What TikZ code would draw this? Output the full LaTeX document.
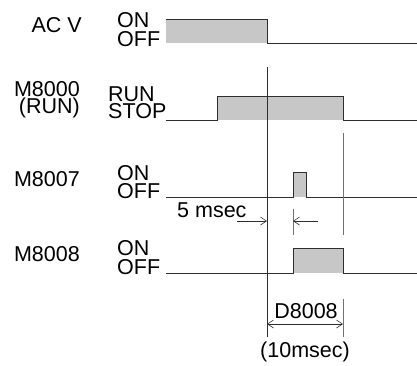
\documentclass[tikz,border=0pt]{standalone}
\usepackage{fontspec}
\setmainfont{Liberation Sans}
\usetikzlibrary{arrows.meta,positioning}
\definecolor{wavefill}{gray}{0.78}
\definecolor{wireline}{gray}{0.18}
\definecolor{guideline}{gray}{0.45}
\begin{document}
\begin{tikzpicture}[x=1pt, y=-1pt,
  lbl/.style={font=\fontsize{21.5}{21.5}\selectfont, inner sep=0pt},
  sig/.style={lbl, anchor=base east},
  lvl/.style={lbl, anchor=base west},
  wave/.style={draw=wireline, line width=1pt, line join=miter},
  pulse/.style={fill=wavefill},
  guide/.style={draw=wireline, line width=0.7pt},
  barb/.style={-{Straight Barb[length=6pt,width=8pt,line width=0.6pt]}},
]
\useasboundingbox (0,0) rectangle (417,365);

% signal names and levels
\node[sig] (acv)  at (82,32)   {AC V};
\node[lvl] (acon) at (117,27)  {ON};
\node[lvl] (acoff) at (117,46) {OFF};

\node[sig] (mrun)  at (80,96)  {M8000};
\node[sig] (mrunb) at (80,113) {(RUN)};
\node[lvl] (run)   at (108,101) {RUN};
\node[lvl] (stop)  at (108,118) {STOP};

\node[sig] (mpwr)  at (80,186)  {M8007};
\node[lvl] (mpwron)  at (117,180) {ON};
\node[lvl] (mpwroff) at (117,198) {OFF};

\node[sig] (mdet)  at (80,261)  {M8008};
\node[lvl] (mdeton)  at (117,255) {ON};
\node[lvl] (mdetoff) at (117,274) {OFF};

% waveforms
\fill[pulse] (166,19) rectangle (267,43);
\draw[wave] (166,19) -- (267,19) -- (267,43) -- (417,43);

\fill[pulse] (217,96) rectangle (343,120);
\draw[wave] (166,120) -- (217,120) -- (217,96) -- (343,96) -- (343,120) -- (417,120);

\fill[pulse] (293,172) rectangle (306,197);
\draw[wave] (166,197) -- (293,197) -- (293,172) -- (306,172) -- (306,197) -- (417,197);

\fill[pulse] (293,248) rectangle (343,273);
\draw[wave] (166,273) -- (293,273) -- (293,248) -- (343,248) -- (343,273) -- (417,273);

% guide lines
\coordinate (offtop) at (267,67);
\coordinate (offbot) at (267,337);
\coordinate (stoptop) at (343,133);
\coordinate (stopbot) at (343,235);
\coordinate (pulsetop) at (293,209);
\coordinate (pulsebot) at (293,235);
\coordinate (endtop) at (343,299);
\coordinate (endbot) at (343,337);
\draw[guide] (offtop) -- (offbot);
\draw[guide, draw=guideline] (stoptop) -- (stopbot);
\draw[guide, draw=guideline] (pulsetop) -- (pulsebot);
\draw[guide, draw=guideline] (endtop) -- (endbot);

% 5 msec delay
\node[lbl, anchor=base west] (delay) at (177,217) {5 msec};
\coordinate (dla) at (237,221);
\coordinate (dlb) at (267,221);
\coordinate (dlc) at (293,221);
\coordinate (dld) at (318,221);
\draw[guide, barb] (dla) -- (dlb);
\draw[guide, barb] (dld) -- (dlc);

% D8008 span
\coordinate (spa) at (267,324);
\coordinate (spb) at (343,324);
\draw[guide, {Straight Barb[length=6pt,width=8pt,line width=0.6pt]}-{Straight Barb[length=6pt,width=8pt,line width=0.6pt]}] (spa) -- (spb);
\node[lbl, anchor=base] (dreg) at (306,318) {D8008};
\node[lbl, anchor=base] (dval) at (305,357) {(10msec)};
\end{tikzpicture}
\end{document}
